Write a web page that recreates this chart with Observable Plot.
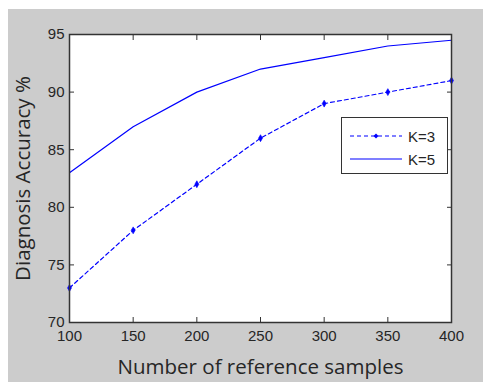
<!DOCTYPE html>
<html>
<head>
<meta charset="utf-8">
<script src="https://cdn.jsdelivr.net/npm/d3@7"></script>
<script src="https://cdn.jsdelivr.net/npm/@observablehq/plot@0.6"></script>
<style>
  html, body { margin: 0; padding: 0; background: white; }
  #wrap { position: relative; width: 483px; height: 382px; overflow: hidden; }
  #bg { position: absolute; left: 8px; top: 9px; right: 0; bottom: 0; background: #cccccc; }
  #chart { position: absolute; left: 0; top: 0; }
  #legend { position: absolute; left: 341px; top: 117px; width: 105px; height: 55px;
    background: white; border: 1px solid #333; font-family: "Liberation Sans", Arial, sans-serif;
    font-size: 15px; color: #262626; }
  .row { position: absolute; left: 0; height: 20px; display: flex; align-items: center; }
  .row svg { margin-left: 8px; margin-right: 6px; }
</style>
</head>
<body>
<div id="wrap">
  <div id="bg"></div>
  <div id="chart"></div>
  <div id="legend"></div>
</div>
<script>
const samples = [100, 150, 200, 250, 300, 350, 400];
const k3 = [73, 78, 82, 86, 89, 90, 91];
const k5 = [83, 87, 90, 92, 93, 94, 94.5];
const xTicks = [100, 150, 200, 250, 300, 350, 400];
const yTicks = [70, 75, 80, 85, 90, 95];
const seriesNames = ["K=3", "K=5"];
const blue = "#0000ff";

const d3data = samples.map((s, i) => ({x: s, y: k3[i]}));
const d5data = samples.map((s, i) => ({x: s, y: k5[i]}));

const tickFont = {fontFamily: "'Liberation Sans', Arial, sans-serif", fontSize: 15, fill: "#262626"};
const titleFont = {fontFamily: "'Open Sans', sans-serif", fontSize: 20.5, fill: "#262626"};

const plot = Plot.plot({
  width: 483,
  height: 382,
  marginLeft: 69,
  marginRight: 32,
  marginTop: 34,
  marginBottom: 60,
  style: {background: "transparent", overflow: "visible"},
  x: {domain: [100, 400]},
  y: {domain: [70, 95]},
  marks: [
    Plot.frame({fill: "white", stroke: "none"}),
    Plot.lineY(d5data, {x: "x", y: "y", stroke: blue, strokeWidth: 1.2}),
    Plot.lineY(d3data, {x: "x", y: "y", stroke: blue, strokeWidth: 1.2, strokeDasharray: "4,3"}),
    Plot.dot(d3data, {x: "x", y: "y", symbol: "diamond", r: 2.1, fill: blue, stroke: blue, strokeWidth: 0.6}),
    // inward ticks
    Plot.axisX(xTicks, {anchor: "bottom", tickSize: -5, text: null, stroke: "#333", label: null}),
    Plot.axisX(xTicks, {anchor: "top", tickSize: -5, text: null, stroke: "#333", label: null}),
    Plot.axisY(yTicks, {anchor: "left", tickSize: -5, text: null, stroke: "#333", label: null}),
    Plot.axisY(yTicks, {anchor: "right", tickSize: -5, text: null, stroke: "#333", label: null}),
    // tick labels
    Plot.axisX(xTicks, {anchor: "bottom", tickSize: 0, tickPadding: 8, label: null, ...tickFont, stroke: null}),
    Plot.axisY(yTicks, {anchor: "left", tickSize: 0, tickPadding: 5, label: null, ...tickFont, stroke: null}),
    Plot.frame({stroke: "#333", strokeWidth: 1.5}),
    // axis titles
    Plot.axisX({anchor: "bottom", ticks: [], tickSize: 0, label: "Number of reference samples", labelAnchor: "center", labelArrow: "none", labelOffset: 51, ...titleFont}),
    Plot.axisY({anchor: "left", ticks: [], tickSize: 0, label: "Diagnosis Accuracy %", labelAnchor: "center", labelArrow: "none", labelOffset: 54, ...titleFont})
  ]
});
document.getElementById("chart").appendChild(plot);

// legend
const legend = document.getElementById("legend");
seriesNames.forEach((name, i) => {
  const row = document.createElement("div");
  row.className = "row";
  row.style.top = (i === 0 ? 8 : 31) + "px";
  const dashed = i === 0;
  row.innerHTML = `<svg width="52" height="10"><line x1="0" y1="5" x2="52" y2="5" stroke="${blue}" stroke-width="1.2" ${dashed ? 'stroke-dasharray="4,3"' : ''}/>${dashed ? `<path d="M26,2.5 L28.5,5 L26,7.5 L23.5,5 Z" fill="${blue}"/>` : ''}</svg><span>${name}</span>`;
  legend.appendChild(row);
});
</script>
</body>
</html>
